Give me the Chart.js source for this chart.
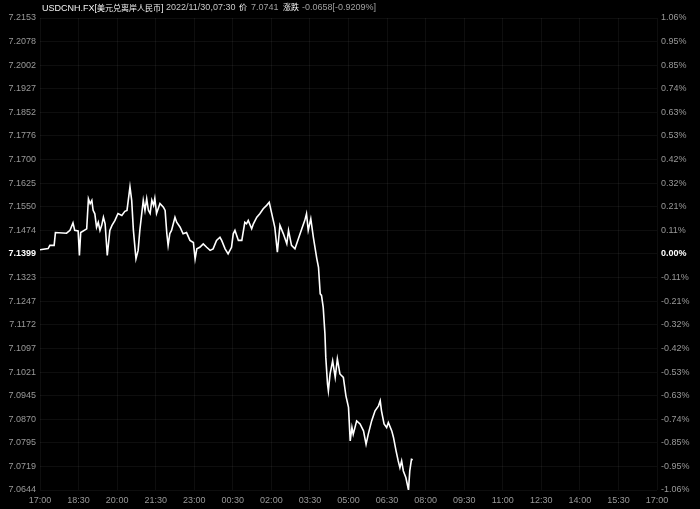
<!DOCTYPE html>
<html>
<head>
<meta charset="utf-8">
<script src="https://cdn.jsdelivr.net/npm/chart.js@4.4.1/dist/chart.umd.min.js"></script>
<style>
  html, body { margin: 0; padding: 0; background: #000; }
  #wrap { position: relative; width: 700px; height: 509px; background: #000; overflow: hidden; }
  canvas { position: absolute; left: 0; top: 0; }
  .t { position: absolute; top: 2px; font-family: "Liberation Sans", "Noto Sans CJK SC", sans-serif; font-size: 9px; line-height: 11px; white-space: nowrap; }
  .cjk { font-family: "Noto Sans CJK SC", sans-serif; font-size: 8px; }
</style>
</head>
<body>
<div id="wrap">
  <canvas id="c" width="700" height="509"></canvas>
  <span class="t" style="left:42px;color:#f2f2f2">USDCNH.FX[<span class="cjk">美元兑离岸人民币</span>]</span>
  <span class="t" style="left:166px;color:#c8c8c8">2022/11/30,07:30</span>
  <span class="t cjk" style="left:239px;top:1px;color:#f2f2f2">价</span>
  <span class="t" style="left:251px;color:#a0a0a0">7.0741</span>
  <span class="t cjk" style="left:283px;top:1px;color:#f2f2f2">涨跌</span>
  <span class="t" style="left:302px;color:#a0a0a0">-0.0658[-0.9209%]</span>
</div>
<script>
// minutes since 17:00
const times = [0,19,23,33,36,62,70,77,81,89,92,95,109,113,117,121,124,128,132,136,140,144,148,152,157,163,168,175,182,191,198,203,206,210,214,218,224,229,233,241,245,249,253,257,261,265,268,272,280,288,292,296,299,303,307,315,319,327,334,342,350,358,362,366,373,381,389,397,404,412,420,424,432,439,447,451,455,463,471,478,482,486,494,498,506,513,521,529,535,541,548,554,560,568,576,580,587,595,603,611,618,622,626,632,638,646,650,654,657,661,665,667,671,673,677,683,689,694,700,708,714,720,724,728,731,739,747,755,761,766,774,782,790,794,797,803,809,813,821,825,831,836,840,844,848,854,860,863,867,870];
const prices = [7.1412,7.1416,7.1426,7.1426,7.1467,7.1465,7.1474,7.1498,7.1474,7.1472,7.1394,7.1467,7.1479,7.1575,7.1559,7.1570,7.1538,7.1527,7.1484,7.1500,7.1474,7.1490,7.1516,7.1495,7.1394,7.1474,7.1490,7.1506,7.1528,7.1522,7.1535,7.1538,7.1570,7.1613,7.1570,7.1474,7.1383,7.1410,7.1474,7.1570,7.1538,7.1575,7.1538,7.1528,7.1570,7.1554,7.1576,7.1528,7.1560,7.1548,7.1538,7.1464,7.1426,7.1464,7.1474,7.1516,7.1500,7.1484,7.1463,7.1467,7.1442,7.1435,7.1383,7.1415,7.1420,7.1431,7.1420,7.1410,7.1415,7.1442,7.1452,7.1442,7.1415,7.1399,7.1420,7.1463,7.1474,7.1442,7.1442,7.1500,7.1495,7.1506,7.1479,7.1495,7.1516,7.1527,7.1543,7.1554,7.1564,7.1527,7.1484,7.1404,7.1490,7.1463,7.1431,7.1474,7.1426,7.1415,7.1447,7.1479,7.1506,7.1527,7.1474,7.1511,7.1452,7.1384,7.1356,7.1271,7.1266,7.1228,7.1144,7.1068,7.0983,7.0961,7.1015,7.1057,7.1004,7.1063,7.1015,7.1004,7.0945,7.0908,7.0801,7.0844,7.0822,7.0865,7.0855,7.0833,7.0790,7.0822,7.0865,7.0897,7.0913,7.0929,7.0897,7.0855,7.0844,7.0860,7.0833,7.0812,7.0769,7.0737,7.0715,7.0737,7.0705,7.0683,7.0644,7.0705,7.0742,7.0741];

const xTickMinutes = [0,90,180,270,360,450,540,630,720,810,900,990,1080,1170,1260,1350,1440];
const xTickLabels = ["17:00","18:30","20:00","21:30","23:00","00:30","02:00","03:30","05:00","06:30","08:00","09:30","11:00","12:30","14:00","15:30","17:00"];
const yTickLabels = ["7.2153","7.2078","7.2002","7.1927","7.1852","7.1776","7.1700","7.1625","7.1550","7.1474","7.1399","7.1323","7.1247","7.1172","7.1097","7.1021","7.0945","7.0870","7.0795","7.0719","7.0644"];
const pctTickLabels = ["1.06%","0.95%","0.85%","0.74%","0.63%","0.53%","0.42%","0.32%","0.21%","0.11%","0.00%","-0.11%","-0.21%","-0.32%","-0.42%","-0.53%","-0.63%","-0.74%","-0.85%","-0.95%","-1.06%"];
const yMin = 7.0644, yMax = 7.2153;

const points = times.map((t, i) => ({ x: t, y: prices[i] }));
const yTickValues = yTickLabels.map(s => parseFloat(s));
yTickValues[0] = yMax; yTickValues[yTickValues.length - 1] = yMin;

const FONT = "'Liberation Sans', Arial, sans-serif";
const gridColor = 'rgba(255,255,255,0.055)';
const midIdx = 10;

function yTickFont(ctx) {
  return { family: FONT, size: 9, weight: ctx.index === midIdx ? 'bold' : 'normal' };
}
function yTickColor(ctx) { return ctx.index === midIdx ? '#ffffff' : '#999999'; }

new Chart(document.getElementById('c'), {
  type: 'line',
  data: {
    datasets: [{
      data: points,
      borderColor: '#ffffff',
      borderWidth: 1.6,
      pointRadius: 0,
      tension: 0,
      fill: false,
      yAxisID: 'y'
    }]
  },
  options: {
    responsive: false,
    animation: false,
    devicePixelRatio: 1,
    layout: { padding: { top: 18, left: 0, right: 0, bottom: 0 } },
    plugins: { legend: { display: false }, tooltip: { enabled: false }, title: { display: false } },
    scales: {
      x: {
        type: 'linear',
        min: 0, max: 1440,
        afterBuildTicks: s => { s.ticks = xTickMinutes.map(v => ({ value: v })); },
        afterFit: s => { s.height = 19; },
        ticks: {
          autoSkip: false, maxRotation: 0, padding: 5,
          color: '#999999',
          font: { family: FONT, size: 9 },
          callback: (v, i) => xTickLabels[i]
        },
        grid: { color: gridColor, drawTicks: false },
        border: { display: false }
      },
      y: {
        position: 'left',
        min: yMin, max: yMax,
        afterBuildTicks: s => { s.ticks = yTickValues.map(v => ({ value: v })); },
        afterFit: s => { s.width = 40; },
        ticks: {
          autoSkip: false, padding: 4,
          color: yTickColor,
          font: yTickFont,
          callback: (v, i) => yTickLabels[i]
        },
        grid: { color: gridColor, drawTicks: false },
        border: { display: false }
      },
      y2: {
        position: 'right',
        min: yMin, max: yMax,
        afterBuildTicks: s => { s.ticks = yTickValues.map(v => ({ value: v })); },
        afterFit: s => { s.width = 43; },
        ticks: {
          autoSkip: false, padding: 4,
          color: yTickColor,
          font: yTickFont,
          callback: (v, i) => pctTickLabels[i]
        },
        grid: { display: false, drawTicks: false },
        border: { display: false }
      }
    }
  }
});
</script>
</body>
</html>
